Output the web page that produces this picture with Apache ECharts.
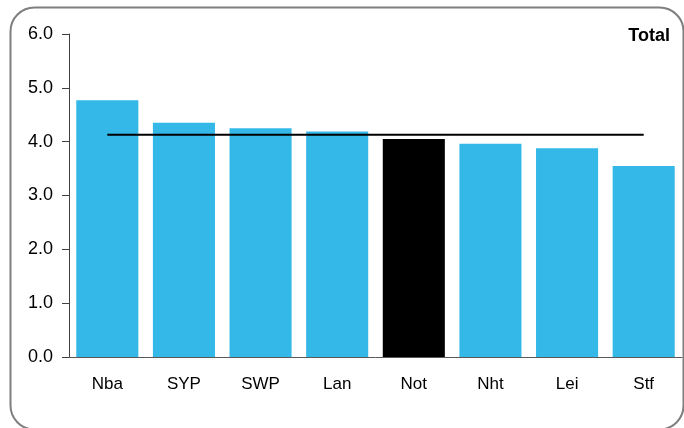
<!DOCTYPE html>
<html><head><meta charset="utf-8">
<script src="https://cdn.jsdelivr.net/npm/echarts@6/dist/echarts.min.js"></script>
<style>html,body{margin:0;padding:0;background:#fff}#c{width:684px;height:428px}</style>
</head><body><div id="c"></div>
<script>
const categories = ['Nba','SYP','SWP','Lan','Not','Nht','Lei','Stf'];
const values = [4.77, 4.35, 4.25, 4.19, 4.05, 3.96, 3.88, 3.55];
const average = [4.13, 4.13, 4.13, 4.13, 4.13, 4.13, 4.13, 4.13];
const highlight = 'Not';
const yTicks = [0, 1, 2, 3, 4, 5, 6];

const chart = echarts.init(document.getElementById('c'), null, {renderer: 'canvas'});
chart.setOption({
  animation: false,
  graphic: [{
    type: 'rect', left: 8, top: 5,
    shape: {width: 673, height: 422, r: 24},
    style: {fill: 'none', stroke: '#7f7f7f', lineWidth: 2}
  }],
  title: {
    text: 'Total', right: 9, top: 22,
    textStyle: {fontFamily: 'Liberation Sans, Arial', fontWeight: 'bold', fontSize: 18, color: '#000'}
  },
  grid: {left: 69, right: 2, top: 34, bottom: 71, containLabel: false},
  xAxis: {
    type: 'category', data: categories,
    axisLine: {lineStyle: {color: '#595959', width: 1}},
    axisTick: {show: false},
    axisLabel: {fontFamily: 'Liberation Sans, Arial', fontSize: 17, color: '#000', margin: 19}
  },
  yAxis: {
    type: 'value', min: yTicks[0], max: yTicks[yTicks.length - 1], interval: 1,
    axisLine: {show: true, lineStyle: {color: '#404040', width: 1}},
    axisTick: {show: true, length: 7, lineStyle: {color: '#404040'}},
    splitLine: {show: false},
    axisLabel: {fontFamily: 'Liberation Sans, Arial', fontSize: 18, color: '#000', margin: 16,
      formatter: v => v.toFixed(1)}
  },
  series: [{
    type: 'bar', barCategoryGap: '19%',
    data: values.map((v, i) => ({value: v, itemStyle: {color: categories[i] === highlight ? '#000' : '#33B8E8'}}))
  }, {
    type: 'line', data: average, symbol: 'none',
    lineStyle: {color: '#000', width: 2}, z: 5
  }]
});
</script></body></html>
